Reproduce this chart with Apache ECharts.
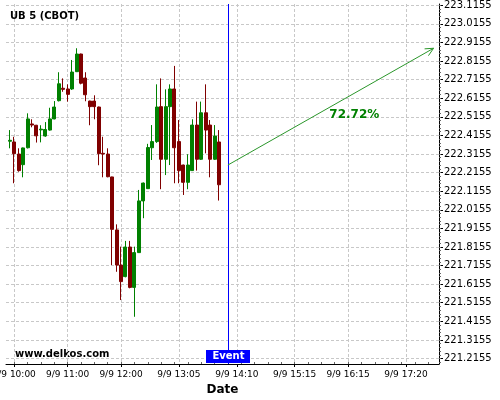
<!DOCTYPE html>
<html><head><meta charset="utf-8">
<script src="https://cdn.jsdelivr.net/npm/echarts@6/dist/echarts.min.js"></script>
<style>html,body{margin:0;padding:0;background:#fff}#c{width:500px;height:400px}</style>
</head><body><div id="c"></div>
<script>
// ---- data ----
const chartTitle = 'UB 5 (CBOT)';
const watermark = 'www.delkos.com';
const xAxisName = 'Date';
const dateLabel = '9/9';
const times = ['9:55','10:00','10:05','10:10','10:15','10:20','10:25','10:30','10:35','10:40','10:45','10:50',
  '10:55','11:00','11:05','11:10','11:15','11:20','11:25','11:30','11:35','11:40','11:45','11:50',
  '11:55','12:00','12:05','12:10','12:15','12:20','12:25','12:30','12:35','12:40','12:45','12:50',
  '12:55','13:00','13:05','13:10','13:15','13:20','13:25','13:30','13:35','13:40','13:45','13:50'];
const opens = [222.384,222.380,222.315,222.258,222.349,222.477,222.470,222.445,222.412,222.444,222.504,222.602,
  222.669,222.665,222.665,222.758,222.853,222.724,222.600,222.600,222.568,222.319,222.315,222.192,
  221.907,221.718,221.656,221.815,221.598,221.785,222.063,222.129,222.349,222.382,222.570,222.287,
  222.570,222.665,222.382,222.256,222.163,222.226,222.471,222.287,222.537,222.471,222.287,222.380];
const closes = [222.389,222.317,222.226,222.348,222.504,222.471,222.413,222.449,222.447,222.504,222.568,222.693,
  222.663,222.636,222.756,222.853,222.696,222.634,222.570,222.570,222.317,222.315,222.193,221.910,
  221.718,221.629,221.815,221.598,221.785,222.063,222.159,222.350,222.382,222.568,222.287,222.570,
  222.665,222.349,222.226,222.163,222.256,222.471,222.287,222.537,222.444,222.287,222.412,222.150];
const lows = [222.346,222.158,222.220,222.190,222.345,222.459,222.377,222.378,222.408,222.441,222.502,222.598,
  222.650,222.597,222.660,222.756,222.690,222.599,222.470,222.502,222.255,222.190,222.190,221.718,
  221.682,221.530,221.652,221.593,221.440,221.783,221.970,222.127,222.283,222.375,222.126,222.202,
  222.256,222.158,222.158,222.095,222.126,222.224,222.226,222.283,222.319,222.190,222.283,222.065];
const highs = [222.444,222.408,222.346,222.350,222.534,222.502,222.472,222.470,222.487,222.564,222.600,222.755,
  222.722,222.690,222.821,222.884,222.855,222.755,222.602,222.631,222.570,222.408,222.346,222.193,
  221.937,221.817,221.848,221.848,221.817,222.122,222.162,222.370,222.471,222.690,222.722,222.663,
  222.690,222.789,222.498,222.258,222.314,222.502,222.597,222.597,222.690,222.498,222.471,222.444];
const xTickTimes = ['10:00','11:00','12:00','13:05','14:10','15:15','16:15','17:20'];
const yTickLabels = ['221.2155','221.3155','221.4155','221.5155','221.6155','221.7155','221.8155','221.9155','222.0155',
  '222.1155','222.2155','222.3155','222.4155','222.5155','222.6155','222.7155','222.8155','222.9155','223.0155','223.1155'];
const eventTime = '14:00';
const eventLabel = 'Event';
const arrowFrom = ['14:00', 222.256];
const arrowTo = ['17:51', 222.884];
const arrowText = '72.72%';
const arrowTextAt = ['16:22', 222.525];

// ---- helpers ----
const toMin = t => { const [h, m] = t.split(':').map(Number); return h * 60 + m; };
const xMin = 590.8, xMax = 1077.1, yMin = 221.186, yMax = 223.122;
const yTicks = yTickLabels.map(Number);
const xTicks = xTickTimes.map(toMin);
const yMinor = []; for (let v = yTicks[0] - 0.02; v <= yMax; v += 0.02) if (v >= yMin) yMinor.push(+v.toFixed(4));
const xMinor = []; for (let m = 600; m <= xMax; m += 15) xMinor.push(m);
const FONT = 'DejaVu Sans';
const UP = '#008000', DOWN = '#800000';

const chart = echarts.init(document.getElementById('c'), null, {renderer: 'canvas'});
const ohlc = times.map((t, i) => [toMin(t), opens[i], closes[i], lows[i], highs[i]]);

chart.setOption({
  animation: false,
  grid: {left: 6, right: 61, top: 4, bottom: 36, containLabel: false, outerBoundsMode: 'none'},
  xAxis: [{
    type: 'value', min: xMin, max: xMax,
    name: xAxisName, nameLocation: 'middle', nameGap: 19,
    nameTextStyle: {fontFamily: FONT, fontWeight: 'bold', fontSize: 12, color: '#000'},
    axisLine: {show: true, onZero: false, lineStyle: {color: '#000', width: 1}},
    axisTick: {show: true, length: 3, customValues: xTicks, lineStyle: {color: '#000'}},
    axisLabel: {customValues: xTicks, margin: 6, fontFamily: FONT, fontSize: 9, color: '#000',
      hideOverlap: false, formatter: v => dateLabel + ' ' + xTickTimes[xTicks.indexOf(Math.round(v))]},
    splitLine: {show: true, lineStyle: {color: '#c8c8c8', type: [3, 2], width: 1}}
  }, {
    type: 'value', min: xMin, max: xMax, position: 'bottom',
    axisLine: {show: false}, axisLabel: {show: false}, splitLine: {show: false},
    axisTick: {show: true, inside: true, length: 2, customValues: xMinor, lineStyle: {color: '#666'}}
  }],
  yAxis: [{
    type: 'value', position: 'right', min: yMin, max: yMax, scale: true,
    axisLine: {show: true, onZero: false, lineStyle: {color: '#000', width: 1}},
    axisTick: {show: true, length: 4, customValues: yTicks, lineStyle: {color: '#000'}},
    axisLabel: {customValues: yTicks, margin: 5, fontFamily: FONT, fontSize: 10, color: '#000',
      formatter: v => yTickLabels[yTicks.indexOf(+v.toFixed(4))] || v.toFixed(4)},
    splitLine: {show: true, lineStyle: {color: '#c8c8c8', type: [3, 2], width: 1}}
  }, {
    type: 'value', position: 'right', min: yMin, max: yMax, scale: true,
    axisLine: {show: false}, axisLabel: {show: false}, splitLine: {show: false},
    axisTick: {show: true, length: 2, customValues: yMinor, lineStyle: {color: '#666'}}
  }],
  graphic: [
    {type: 'text', style: {text: chartTitle, x: 10, y: 16, verticalAlign: 'middle', font: 'bold 10px "DejaVu Sans"', fill: '#000'}},
    {type: 'text', style: {text: watermark, x: 15, y: 354, verticalAlign: 'middle', font: 'bold 10px "DejaVu Sans"', fill: '#000'}}
  ],
  series: [{
    type: 'candlestick',
    data: ohlc,
    barWidth: 3.5,
    itemStyle: {color: UP, color0: DOWN, borderColor: UP, borderColor0: DOWN, borderWidth: 1}
  }, {
    type: 'custom', data: [0], z: 5, silent: true, clip: false,
    renderItem: (params, api) => {
      const top = api.coord([toMin(eventTime), yMax]);
      const bot = api.coord([toMin(eventTime), yMin]);
      const x = Math.round(top[0]) + 0.5;
      return {type: 'group', children: [
        {type: 'line', shape: {x1: x, y1: top[1], x2: x, y2: bot[1]}, style: {stroke: '#0000ff', lineWidth: 1}},
        {type: 'rect', shape: {x: x - 22.5, y: bot[1] - 14, width: 44, height: 13}, style: {fill: '#0000ff'}},
        {type: 'text', style: {text: eventLabel, x: x, y: bot[1] - 7.5, align: 'center', verticalAlign: 'middle',
          fill: '#fff', font: 'bold 10px "DejaVu Sans"'}}
      ]};
    }
  }, {
    type: 'custom', data: [0], z: 6, silent: true, clip: false,
    renderItem: (params, api) => {
      const p1 = api.coord([toMin(arrowFrom[0]), arrowFrom[1]]);
      const p2 = api.coord([toMin(arrowTo[0]), arrowTo[1]]);
      const pt = api.coord([toMin(arrowTextAt[0]), arrowTextAt[1]]);
      const ang = Math.atan2(p2[1] - p1[1], p2[0] - p1[0]);
      const L = 9, a = 0.45;
      const h1 = [p2[0] - L * Math.cos(ang - a), p2[1] - L * Math.sin(ang - a)];
      const h2 = [p2[0] - L * Math.cos(ang + a), p2[1] - L * Math.sin(ang + a)];
      const stroke = '#2a962a';
      return {type: 'group', children: [
        {type: 'line', shape: {x1: p1[0], y1: p1[1], x2: p2[0], y2: p2[1]}, style: {stroke, lineWidth: 1}},
        {type: 'polyline', shape: {points: [h1, p2, h2]}, style: {stroke, lineWidth: 1, fill: null}},
        {type: 'text', style: {text: arrowText, x: pt[0], y: pt[1], align: 'center', verticalAlign: 'middle',
          fill: '#008000', font: 'bold 12px "DejaVu Sans"'}}
      ]};
    }
  }]
});
</script>
</body></html>
